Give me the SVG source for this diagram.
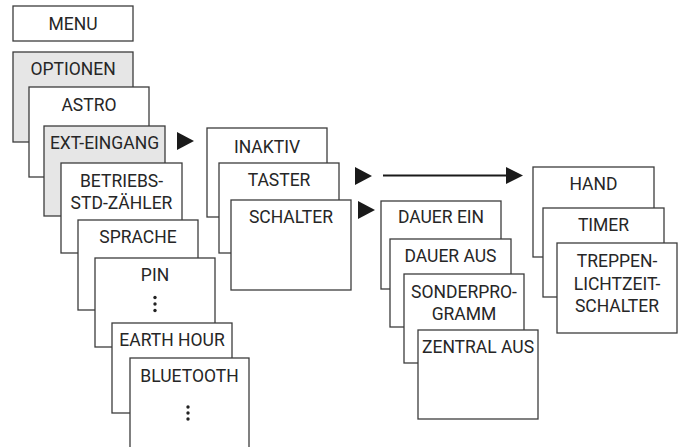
<svg xmlns="http://www.w3.org/2000/svg" width="684" height="447" viewBox="0 0 684 447">
<style>
.b{fill:#fff;stroke:#3c3c3c;stroke-width:1.3}
.g{fill:#e6e6e6;stroke:#3c3c3c;stroke-width:1.3}
text{font-family:Roboto,"Liberation Sans",sans-serif;font-size:17.5px;fill:#262626;text-anchor:middle}
.tri{fill:#1a1a1a}
.dot{fill:#222}
</style>
<rect width="684" height="447" fill="#fff"/>
<g id="menu"><rect class="b" x="13" y="6" width="120" height="35"/><text x="73" y="30">MENU</text></g>
<g id="optionen"><rect class="g" x="13" y="52" width="120" height="90"/><text x="73" y="75">OPTIONEN</text></g>
<g id="astro"><rect class="b" x="29" y="87" width="120" height="90"/><text x="89" y="111">ASTRO</text></g>
<g id="ext-eingang"><rect class="g" x="44" y="126" width="121" height="90"/><text x="104.5" y="149">EXT-EINGANG</text></g>
<g id="betriebs"><rect class="b" x="61" y="163" width="121" height="90"/><text x="121.5" y="187">BETRIEBS-</text><text x="121.5" y="209">STD-ZÄHLER</text></g>
<g id="sprache"><rect class="b" x="78" y="220" width="120" height="90"/><text x="138" y="243">SPRACHE</text></g>
<g id="pin"><rect class="b" x="95" y="258" width="120" height="89"/><text x="155" y="281">PIN</text><circle class="dot" cx="155" cy="297.5" r="1.7"/><circle class="dot" cx="155" cy="304" r="1.7"/><circle class="dot" cx="155" cy="310.5" r="1.7"/></g>
<g id="earth-hour"><rect class="b" x="112" y="323" width="120" height="90"/><text x="172" y="346">EARTH HOUR</text></g>
<g id="bluetooth"><rect class="b" x="130" y="358" width="119" height="100"/><text x="189.5" y="382">BLUETOOTH</text><circle class="dot" cx="188" cy="407" r="1.7"/><circle class="dot" cx="188" cy="413" r="1.7"/><circle class="dot" cx="188" cy="419" r="1.7"/></g>
<g id="inaktiv"><rect class="b" x="207" y="128" width="120" height="89"/><text x="267" y="153">INAKTIV</text></g>
<g id="taster"><rect class="b" x="219" y="163" width="120" height="90"/><text x="279" y="186">TASTER</text></g>
<g id="schalter"><rect class="b" x="231" y="200" width="120" height="90"/><text x="291" y="223">SCHALTER</text></g>
<g id="dauer-ein"><rect class="b" x="381" y="201" width="120" height="88"/><text x="441" y="223">DAUER EIN</text></g>
<g id="dauer-aus"><rect class="b" x="390" y="239" width="121" height="88"/><text x="450.5" y="262">DAUER AUS</text></g>
<g id="sonderprogramm"><rect class="b" x="404" y="274" width="120" height="89"/><text x="464" y="298">SONDERPRO-</text><text x="464" y="320">GRAMM</text></g>
<g id="zentral-aus"><rect class="b" x="418" y="330" width="120" height="89"/><text x="478" y="353">ZENTRAL AUS</text></g>
<g id="hand"><rect class="b" x="533" y="167" width="121" height="90"/><text x="593.5" y="190">HAND</text></g>
<g id="timer"><rect class="b" x="543" y="208" width="121" height="89"/><text x="603.5" y="231">TIMER</text></g>
<g id="treppenlicht"><rect class="b" x="557" y="243" width="120" height="90"/><text x="617" y="267">TREPPEN-</text><text x="617" y="290">LICHTZEIT-</text><text x="617" y="312">SCHALTER</text></g>
<g id="connectors">
<polygon class="tri" points="177,132 194,141 177,150"/>
<polygon class="tri" points="355,167 372,176 355,185"/>
<polygon class="tri" points="358,201 375,210 358,219"/>
<line x1="383" y1="175.5" x2="508" y2="175.5" stroke="#1a1a1a" stroke-width="2"/>
<polygon class="tri" points="506,167 523,175.5 506,184"/>
</g>
</svg>
